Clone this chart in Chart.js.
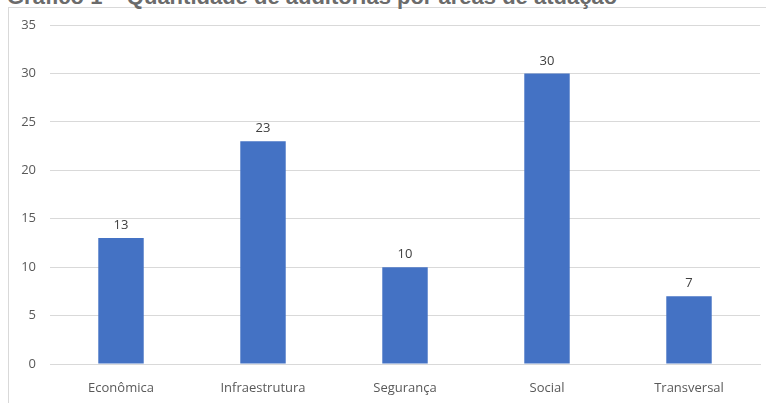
<!DOCTYPE html>
<html>
<head>
<meta charset="utf-8">
<script src="https://cdn.jsdelivr.net/npm/chart.js@4"></script>
<style>
  body { margin: 0; background: #fff; overflow: hidden; }
  #wrap { position: relative; width: 766px; height: 403px; overflow: hidden; }
  #frame { position: absolute; left: 8px; top: 7px; width: 820px; height: 500px; border: 1px solid #d9d9d9; }
  #title { position: absolute; left: 7px; top: -16px; font: bold 22px "Liberation Sans", Arial, sans-serif; color: #6b6b6b; white-space: nowrap; }
  #box { position: absolute; left: 0; top: 0; width: 766px; height: 403px; }
</style>
</head>
<body>
<div id="wrap">
  <div id="frame"></div>
  <div id="title">Gráfico 1 – Quantidade de auditorias por áreas de atuação</div>
  <div id="box"><canvas id="audit-chart"></canvas></div>
</div>
<script>
const areas = ["Econômica", "Infraestrutura", "Segurança", "Social", "Transversal"];
const auditorias = [13, 23, 10, 30, 7];
const yTicks = [0, 5, 10, 15, 20, 25, 30, 35];

const ctx = document.getElementById("audit-chart");

// numbers above each bar
const barLabels = {
	id: "barLabels",
	afterDatasetsDraw(chart) {
		const c = chart.ctx;
		const meta = chart.getDatasetMeta(0);
		c.save();
		c.font = "13px 'Open Sans', sans-serif";
		c.fillStyle = "#404040";
		c.textAlign = "center";
		c.textBaseline = "bottom";
		meta.data.forEach((bar, i) => {
			c.fillText(auditorias[i], bar.x, bar.y - 6);
		});
		c.restore();
	},
};

new Chart(ctx, {
	type: "bar",
	data: {
		labels: areas,
		datasets: [
			{
				label: "Auditorias",
				data: auditorias,
				backgroundColor: "#4472C4",
				categoryPercentage: 1,
				barPercentage: 0.32,
			},
		],
	},
	options: {
		responsive: true,
		maintainAspectRatio: false,
		animation: false,
		layout: { padding: { top: 25, right: 6, left: 0, bottom: 0 } },
		scales: {
			x: {
				grid: { display: false },
				border: { color: "#d9d9d9" },
				ticks: {
					color: "#595959",
					font: { family: "'Liberation Sans Narrow', 'Open Sans', sans-serif", size: 13 },
					padding: 8,
				},
				afterFit: (s) => { s.height = 39; },
			},
			y: {
				min: 0,
				max: 35,
				border: { display: false },
				grid: { color: "#d9d9d9", drawTicks: false },
				afterBuildTicks: (s) => { s.ticks = yTicks.map((v) => ({ value: v })); },
				ticks: {
					color: "#595959",
					font: { family: "'Open Sans', sans-serif", size: 13 },
					padding: 14,
				},
				afterFit: (s) => { s.width = 50; },
			},
		},
		plugins: {
			legend: { display: false },
			tooltip: { enabled: false },
		},
	},
	plugins: [barLabels],
});
</script>
</body>
</html>
